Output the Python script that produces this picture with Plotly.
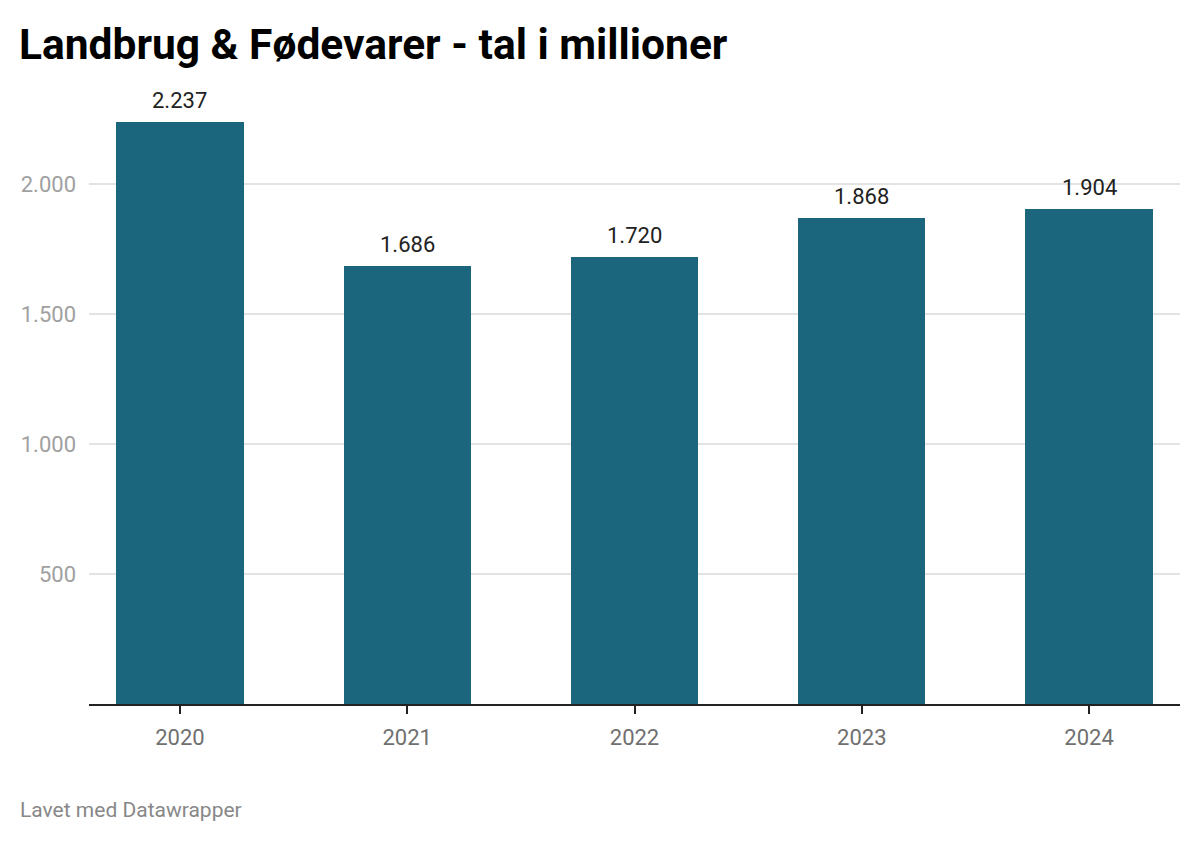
import plotly.graph_objects as go

years = ["2020", "2021", "2022", "2023", "2024"]
values = [2237, 1686, 1720, 1868, 1904]
y_ticks = [500, 1000, 1500, 2000]
y_tick_labels = ["500", "1.000", "1.500", "2.000"]

title_text = "Landbrug & Fødevarer - tal i millioner"
footer_text = "Lavet med Datawrapper"

W, H = 1200, 842
L, R, T, B = 89, 20, 106, 138

fig = go.Figure()
fig.add_trace(go.Bar(
    x=list(range(len(years))), y=values, width=0.56,
    marker=dict(color="#1b667c", line=dict(width=0)),
    hoverinfo="skip",
))

for i, v in enumerate(values):
    fig.add_annotation(
        x=i, y=v, xref="x", yref="y",
        text=f"{v:,}".replace(",", "."),
        showarrow=False, yanchor="bottom", yshift=7,
        font=dict(family="Roboto", size=22, color="#222222"),
    )

fig.add_annotation(
    xref="paper", yref="paper", x=(18 - L) / (W - L - R), y=0,
    text=footer_text, showarrow=False,
    xanchor="left", yanchor="middle", yshift=-(810 - (H - B)),
    font=dict(family="Roboto", size=21, color="#888888"),
)

fig.update_layout(
    width=W, height=H,
    margin=dict(l=L, r=R, t=T, b=B),
    paper_bgcolor="white", plot_bgcolor="white",
    separators=",.",
    showlegend=False,
    bargap=0,
    font=dict(family="Roboto"),
    title=dict(
        text=f"<b>{title_text}</b>",
        xref="container", yref="container",
        x=19 / W, xanchor="left",
        y=1 - 44 / H, yanchor="middle",
        font=dict(family="Roboto", size=42.5, color="#000000"),
    ),
    xaxis=dict(
        range=[-0.4, len(years) - 0.6],
        tickvals=list(range(len(years))), ticktext=years,
        showgrid=False, showline=True, linecolor="#222222", linewidth=1.5,
        ticks="outside", ticklen=8, tickwidth=1.5, tickcolor="#222222",
        tickfont=dict(family="Roboto", size=22, color="#707070"),
        ticklabelstandoff=5,
        zeroline=False,
        fixedrange=True,
    ),
    yaxis=dict(
        range=[0, 2300],
        tickvals=y_ticks, ticktext=y_tick_labels,
        showgrid=True, gridcolor="#e3e3e3", gridwidth=1.5,
        zeroline=False, showline=False, ticks="",
        ticklabelstandoff=12,
        tickfont=dict(family="Roboto", size=22, color="#a0a0a0"),
        fixedrange=True,
    ),
)

fig.write_html(
    "out.html",
    config={"displayModeBar": False},
    post_script="document.body.style.margin='0';document.body.style.overflow='hidden';",
)
